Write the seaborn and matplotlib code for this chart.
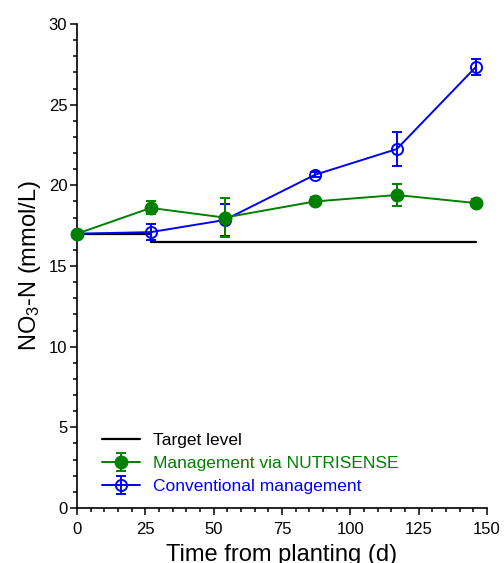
import matplotlib
matplotlib.use("Agg")
import matplotlib.pyplot as plt
import seaborn as sns
from matplotlib.ticker import MultipleLocator

# Data
days = [0, 27, 54, 87, 117, 146]
nutrisense = [17.0, 18.6, 18.0, 19.0, 19.4, 18.9]
nutrisense_err = [0.1, 0.4, 1.2, 0.25, 0.7, 0.25]
conventional = [17.0, 17.1, 17.85, 20.65, 22.25, 27.35]
conventional_err = [0.05, 0.5, 1.0, 0.15, 1.05, 0.5]
target_days = [0, 27, 27, 146]
target_level = [17.0, 17.0, 16.5, 16.5]

sns.set_style("ticks")
plt.rcParams['font.family'] = ['Liberation Sans', 'DejaVu Sans']
plt.rcParams['mathtext.default'] = 'regular'
for key in ['text.color', 'axes.labelcolor', 'xtick.color', 'ytick.color', 'axes.edgecolor']:
    plt.rcParams[key] = 'black'

fig = plt.figure(figsize=(5.04, 5.63), dpi=100)
ax = fig.add_axes([0.1528, 0.0977, 0.8135, 0.8597])

# Target level (stepped line)
sns.lineplot(x=target_days, y=target_level, estimator=None, sort=False,
             color='black', linewidth=1.6, label='Target level', ax=ax, zorder=1)

# Conventional management
ax.errorbar(days, conventional, yerr=conventional_err, color='#0000ff',
            marker='o', markersize=8, markerfacecolor='none',
            markeredgewidth=1.4, linewidth=1.4, capsize=3.5,
            elinewidth=1.4, capthick=1.4, label='Conventional management',
            clip_on=False, zorder=3)

# Management via NUTRISENSE
ax.errorbar(days, nutrisense, yerr=nutrisense_err, color='#008000',
            marker='o', markersize=9, linewidth=1.4, capsize=3.5,
            elinewidth=1.4, capthick=1.4, label='Management via NUTRISENSE',
            clip_on=False, zorder=4)

ax.set_xlim(0, 150)
ax.set_ylim(0, 30)
ax.xaxis.set_major_locator(MultipleLocator(25))
ax.xaxis.set_minor_locator(MultipleLocator(5))
ax.yaxis.set_major_locator(MultipleLocator(5))
ax.yaxis.set_minor_locator(MultipleLocator(1))
ax.tick_params(which='major', length=5, width=1.1, labelsize=12, direction='out')
ax.tick_params(axis='x', which='major', pad=5)
ax.tick_params(axis='y', which='major', pad=2)
ax.tick_params(which='minor', length=3, width=1.1, direction='out')
for s in ['left', 'bottom']:
    ax.spines[s].set_linewidth(1.2)
sns.despine(ax=ax)

ax.set_xlabel('Time from planting (d)', fontsize=17, labelpad=5)
ax.set_ylabel(r'NO$_3$-N (mmol/L)', fontsize=17, labelpad=4)

handles, labels = ax.get_legend_handles_labels()
order = [labels.index('Target level'), labels.index('Management via NUTRISENSE'),
         labels.index('Conventional management')]
ax.legend([handles[i] for i in order], [labels[i] for i in order],
          loc='lower left', bbox_to_anchor=(0.061, 0.029), frameon=False,
          fontsize=12.5, borderaxespad=0, borderpad=0, handlelength=2.2,
          handletextpad=0.75, labelspacing=0.45, labelcolor='linecolor')

fig.savefig('out.png', dpi=100)
